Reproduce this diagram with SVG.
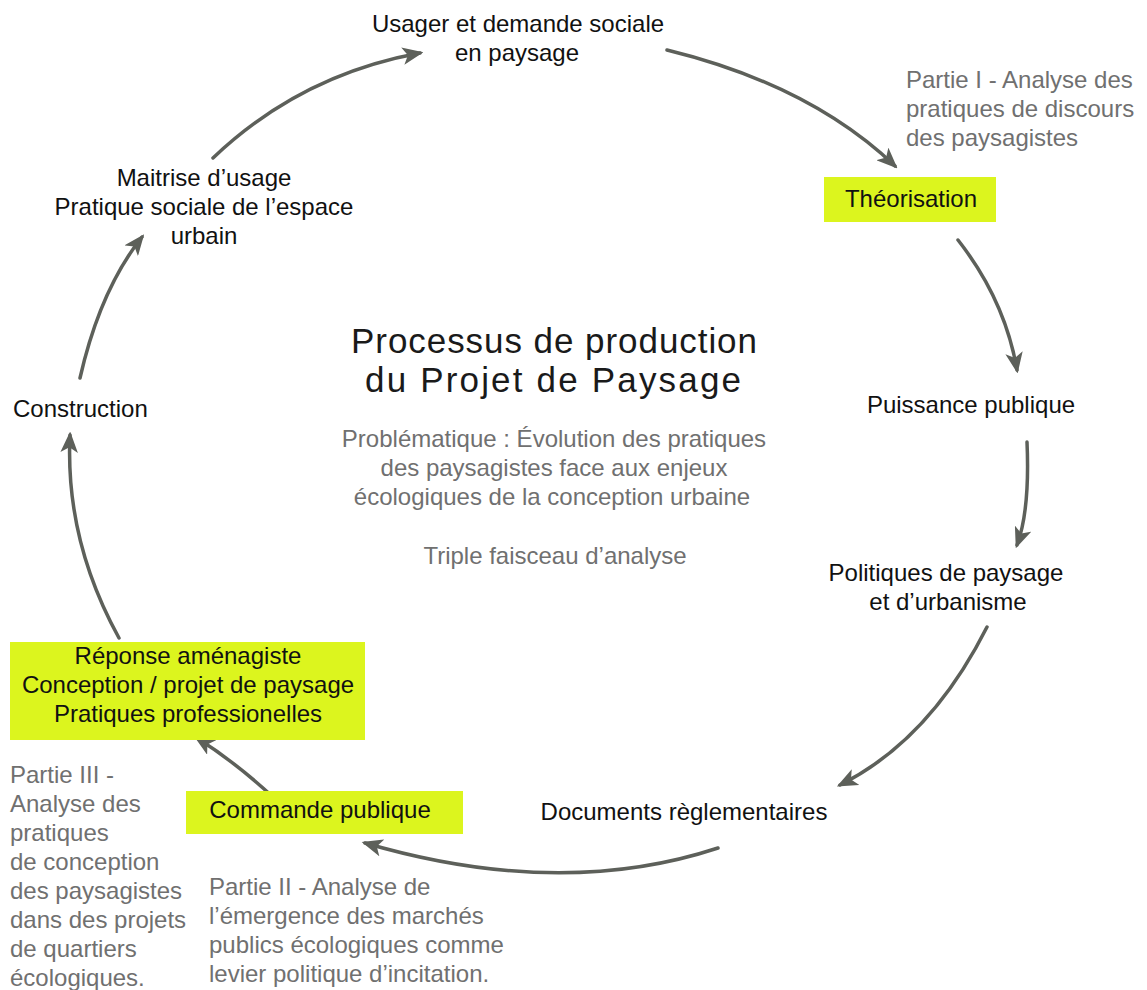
<svg xmlns="http://www.w3.org/2000/svg" width="1147" height="990" viewBox="0 0 1147 990">
<style>
text{font-family:"Liberation Sans",Arial,sans-serif;font-size:24px;fill:#111}
.g{fill:#707070}
.c{text-anchor:middle}
.t{font-size:35px;fill:#1a1a1a}
.box{fill:#dcf51e}
.arr{fill:none;stroke:#5d605a;stroke-width:3.5;stroke-linecap:round;marker-end:url(#ah)}
</style>
<defs>
<marker id="ah" viewBox="0 0 12 10" refX="10" refY="5" markerWidth="6" markerHeight="5" orient="auto" markerUnits="strokeWidth">
<path d="M0,0 L12,5 L0,10 L3,5 Z" fill="#5d605a"/>
</marker>
</defs>
<rect width="1147" height="990" fill="#fff"/>
<g id="connectors">
<path class="arr" d="M667,50 Q810,85 895,166"/>
<path class="arr" d="M958,240 Q1005,300 1017,370"/>
<path class="arr" d="M1027,442 Q1030,510 1017,545"/>
<path class="arr" d="M987,627 Q930,740 840,785"/>
<path class="arr" d="M718,848 Q560,900 365,843"/>
<path class="arr" d="M273,797 Q235,762 197,738"/>
<path class="arr" d="M119,638 Q65,540 70,435"/>
<path class="arr" d="M80,378 Q100,290 142,237"/>
<path class="arr" d="M213,158 Q300,75 420,53"/>
</g>
<g id="title">
<text class="t c" x="554" y="353" textLength="406">Processus de production</text>
<text class="t c" x="553" y="392" textLength="376">du Projet de Paysage</text>
<text class="g c" x="554" y="447">Problématique : Évolution des pratiques</text>
<text class="g c" x="554" y="476">des paysagistes face aux enjeux</text>
<text class="g c" x="552" y="505">écologiques de la conception urbaine</text>
<text class="g c" x="555" y="564">Triple faisceau d’analyse</text>
</g>
<g id="usager">
<text class="c" x="518" y="32">Usager et demande sociale</text>
<text class="c" x="517" y="61">en paysage</text>
</g>
<g id="partie1">
<text class="g" x="906" y="88">Partie I - Analyse des</text>
<text class="g" x="906" y="117">pratiques de discours</text>
<text class="g" x="906" y="146">des paysagistes</text>
</g>
<g id="theorisation">
<rect class="box" x="824" y="177" width="172" height="45"/>
<text class="c" x="911" y="207">Théorisation</text>
</g>
<g id="puissance">
<text class="c" x="971" y="413">Puissance publique</text>
</g>
<g id="politiques">
<text class="c" x="946" y="581">Politiques de paysage</text>
<text class="c" x="948" y="610">et d’urbanisme</text>
</g>
<g id="documents">
<text class="c" x="684" y="820">Documents règlementaires</text>
</g>
<g id="commande">
<rect class="box" x="186" y="791" width="277" height="43"/>
<text class="c" x="320" y="818">Commande publique</text>
</g>
<g id="partie2">
<text class="g" x="209" y="895">Partie II - Analyse de</text>
<text class="g" x="209" y="924">l’émergence des marchés</text>
<text class="g" x="209" y="953">publics écologiques comme</text>
<text class="g" x="209" y="982">levier politique d’incitation.</text>
</g>
<g id="reponse">
<rect class="box" x="10" y="642" width="355" height="98"/>
<text class="c" x="188" y="664">Réponse aménagiste</text>
<text class="c" x="188" y="693">Conception / projet de paysage</text>
<text class="c" x="188" y="722">Pratiques professionelles</text>
</g>
<g id="partie3">
<text class="g" x="10" y="783">Partie III -</text>
<text class="g" x="10" y="812">Analyse des</text>
<text class="g" x="10" y="841">pratiques</text>
<text class="g" x="10" y="870">de conception</text>
<text class="g" x="10" y="899">des paysagistes</text>
<text class="g" x="10" y="928">dans des projets</text>
<text class="g" x="10" y="957">de quartiers</text>
<text class="g" x="10" y="986">écologiques.</text>
</g>
<g id="construction">
<text x="13" y="417">Construction</text>
</g>
<g id="maitrise">
<text class="c" x="204" y="186">Maitrise d’usage</text>
<text class="c" x="204" y="215">Pratique sociale de l’espace</text>
<text class="c" x="204" y="244">urbain</text>
</g>
</svg>
